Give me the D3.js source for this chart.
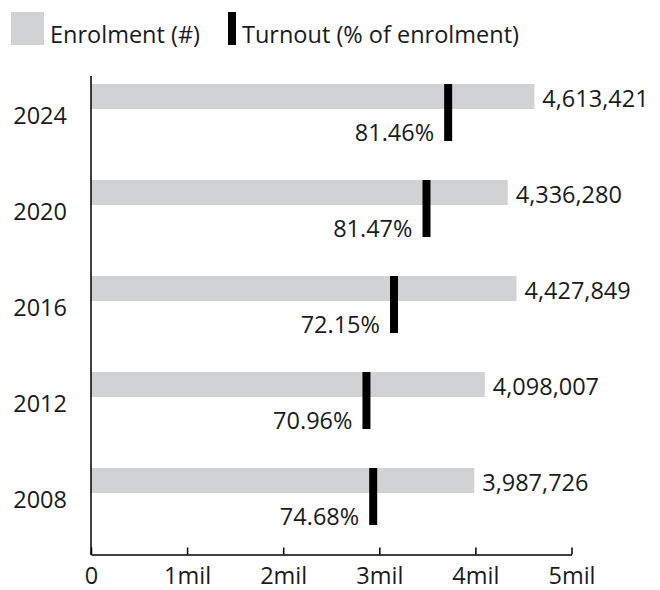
<!DOCTYPE html>
<html>
<head>
<meta charset="utf-8">
<script src="https://cdn.jsdelivr.net/npm/d3@7"></script>
<style>
  body { margin: 0; background: #fff; }
  svg { display: block; font-family: "Open Sans", "Noto Sans", sans-serif; }
  text { fill: #1a1a1a; font-size: 23.5px; }
</style>
</head>
<body>
<svg id="chart" width="660" height="590"></svg>
<script>
const years = ["2024", "2020", "2016", "2012", "2008"];
const enrolment = [4613421, 4336280, 4427849, 4098007, 3987726];
const turnout = [81.46, 81.47, 72.15, 70.96, 74.68];
const xTicks = [0, 1e6, 2e6, 3e6, 4e6, 5e6];

const rows = years.map((yr, i) => ({ year: yr, enrol: enrolment[i], pct: turnout[i] }));

const svg = d3.select("#chart");
const grey = "#d1d2d4";

const x = d3.scaleLinear().domain([0, 5e6]).range([91, 571.5]);
const y = d3.scaleBand().domain(years).range([76, 556]);

// legend
const legend = svg.append("g");
legend.append("rect").attr("x", 11).attr("y", 12).attr("width", 33).attr("height", 33).attr("fill", grey);
legend.append("text").attr("x", 50).attr("y", 43).text("Enrolment (#)");
legend.append("rect").attr("x", 228).attr("y", 12).attr("width", 8).attr("height", 33).attr("fill", "#000");
legend.append("text").attr("x", 242).attr("y", 43).text("Turnout (% of enrolment)");

// bars
const row = svg.append("g").selectAll("g")
  .data(rows)
  .join("g")
  .attr("transform", d => `translate(0,${y(d.year)})`);

row.append("rect")
  .attr("x", x(0))
  .attr("y", 8)
  .attr("width", d => x(d.enrol) - x(0))
  .attr("height", 25)
  .attr("fill", grey);

row.append("rect")
  .attr("x", d => x(d.enrol * d.pct / 100) - 8)
  .attr("y", 8)
  .attr("width", 8)
  .attr("height", 57)
  .attr("fill", "#000");

row.append("text")
  .attr("x", d => x(d.enrol) + 8)
  .attr("y", 31)
  .text(d => d3.format(",")(d.enrol));

row.append("text")
  .attr("x", d => x(d.enrol * d.pct / 100) - 18)
  .attr("y", 65)
  .attr("text-anchor", "end")
  .text(d => d.pct.toFixed(2) + "%");

row.append("text")
  .attr("x", 67)
  .attr("y", 48)
  .attr("text-anchor", "end")
  .text(d => d.year);

// axes
svg.append("line")
  .attr("x1", x(0)).attr("x2", x(0))
  .attr("y1", 76).attr("y2", 555)
  .attr("stroke", "#000").attr("stroke-width", 1.5);

const xAxis = svg.append("g")
  .attr("transform", "translate(0,554.5)")
  .call(d3.axisBottom(x)
    .tickValues(xTicks)
    .tickSizeInner(-7)
    .tickSizeOuter(0)
    .tickFormat(d => d === 0 ? "0" : (d / 1e6) + "mil"));

xAxis.select(".domain").attr("stroke", "#000").attr("stroke-width", 1.5);
xAxis.selectAll(".tick line").attr("stroke", "#000").attr("stroke-width", 1.5);
xAxis.selectAll(".tick text")
  .attr("y", 29.5)
  .attr("dy", null)
  .attr("font-size", 23.5)
  .attr("font-family", null)
  .attr("fill", "#1a1a1a");
xAxis.attr("font-family", null).attr("font-size", null);
</script>
</body>
</html>
